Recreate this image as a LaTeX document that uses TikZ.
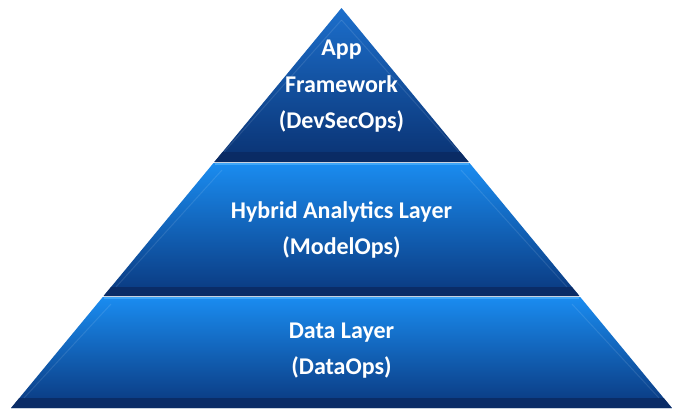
\documentclass[tikz,border=0pt]{standalone}
\usepackage{fontspec}
\setmainfont{Carlito}
\begin{document}
\begin{tikzpicture}[x=1pt,y=-1pt,
  lbl/.style={text=white,font=\fontsize{24}{36.5}\selectfont\bfseries,align=center,inner sep=0pt},
  darkband/.style={fill=navyband,fill opacity=0.85},
  hilite/.style={draw=lightedge,line width=1.6pt},
  bevel/.style={draw=white,draw opacity=0.10,line width=1pt}]
\definecolor{navyband}{HTML}{0A2A62}
\definecolor{lightedge}{HTML}{3FA6F8}
\definecolor{toptop}{HTML}{1C6FCC}
\definecolor{topmid}{HTML}{0E4FA3}
\definecolor{topbot}{HTML}{0A3272}
\definecolor{laytop}{HTML}{1A8CF0}
\definecolor{laymid}{HTML}{0A5CC0}
\definecolor{laybot}{HTML}{0A387E}
\useasboundingbox (0,0) rectangle (677,410);
\fill[white] (0,0) rectangle (677,410);
% ---------- top triangle ----------
\shade[top color=toptop,middle color=topmid,bottom color=topbot] (341.5,8) -- (468.7,162) -- (214.3,162) -- cycle;
\fill[darkband] (222.6,152) -- (460.4,152) -- (468.7,162) -- (214.3,162) -- cycle;
\draw[bevel] (341.5,20) -- (224,152);
\draw[bevel] (341.5,20) -- (459,152);
% ---------- middle layer ----------
\shade[top color=laytop,middle color=laymid,bottom color=laybot] (213.5,163) -- (469.5,163) -- (579.4,296) -- (103.6,296) -- cycle;
\fill[darkband] (111.0,287) -- (572.0,287) -- (579.4,296) -- (103.6,296) -- cycle;
\draw[hilite] (214.5,164) -- (468.5,164);
\draw[bevel] (222,170) -- (116,287);
\draw[bevel] (461,170) -- (567,287);
% ---------- bottom layer ----------
\shade[top color=laytop,middle color=laymid,bottom color=laybot] (102.8,297) -- (580.2,297) -- (671.9,408) -- (11.1,408) -- cycle;
\fill[darkband] (19.3,398) -- (663.7,398) -- (671.9,408) -- (11.1,408) -- cycle;
\draw[hilite] (103.8,298) -- (579.2,298);
\draw[bevel] (111,304) -- (24,398);
\draw[bevel] (572,304) -- (659,398);
% ---------- labels ----------
\node[lbl] (app) at (341.5,86.5) {App\\Framework\\(DevSecOps)};
\node[lbl] (hyb) at (341.5,230) {Hybrid Analytics Layer\\(ModelOps)};
\node[lbl] (dat) at (341.5,350.5) {Data Layer\\(DataOps)};
\end{tikzpicture}
\end{document}
